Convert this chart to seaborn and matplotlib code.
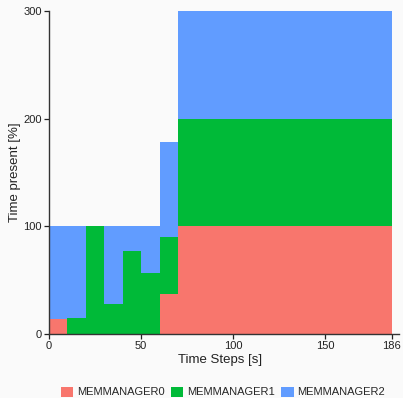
import matplotlib
matplotlib.use("Agg")
import matplotlib.pyplot as plt
import seaborn as sns
import pandas as pd
from matplotlib.patches import Patch

# Data (step intervals start times, last interval ends at 186)
t_start = [0, 10, 20, 30, 40, 50, 60, 70]
t_end = 186
mm0 = [14, 0, 0, 0, 0, 0, 37, 100]
mm1 = [0, 15, 100, 28, 77, 57, 53, 100]
mm2 = [86, 85, 0, 72, 23, 43, 88, 100]
series_names = ["MEMMANAGER0", "MEMMANAGER1", "MEMMANAGER2"]
colors = ["#F8766D", "#00BA38", "#619CFF"]
x_ticks = [0, 50, 100, 150, 186]
y_ticks = [0, 100, 200, 300]

rows = []
for name, vals in zip(series_names, [mm0, mm1, mm2]):
    for t, v in zip(t_start, vals):
        rows.append({"t": t, "value": v, "manager": name})
df = pd.DataFrame(rows)

sns.set_theme(style="ticks")
plt.rcParams["font.family"] = ["Liberation Sans", "DejaVu Sans"]
bg = "#fafafa"

fig = plt.figure(figsize=(4.03, 3.98), dpi=100, facecolor=bg)
ax = fig.add_axes([49 / 403, 1 - 334 / 398, (391.8 - 49) / 403, (334 - 11) / 398])
ax.set_facecolor(bg)

edges = t_start + [t_end]
sns.histplot(
    data=df, x="t", weights="value", hue="manager",
    hue_order=series_names[::-1], palette=dict(zip(series_names, colors)),
    bins=edges, multiple="stack", element="bars", stat="count",
    alpha=1, linewidth=0, edgecolor="none", legend=False, ax=ax,
)

ax.set_xlim(0, t_end)
ax.set_ylim(0, 300)
ax.set_xticks(x_ticks)
ax.set_yticks(y_ticks)
ax.set_xlabel("Time Steps [s]", fontsize=9.5, color="#222222", labelpad=2)
ax.set_ylabel("Time present [%]", fontsize=9.5, color="#222222", labelpad=2)
ax.tick_params(axis="both", labelsize=8, colors="#222222", length=3.5, width=0.9, pad=1.5)
for s in ["top", "right"]:
    ax.spines[s].set_visible(False)
for s in ["left", "bottom"]:
    ax.spines[s].set_color("#333333")
    ax.spines[s].set_linewidth(1.0)
ax.spines["bottom"].set_bounds(0, 190)
ax.spines["bottom"].set_clip_on(False)

handles = [Patch(facecolor=c, edgecolor="none", label=n) for n, c in zip(series_names, colors)]
fig.legend(handles=handles, loc="center", bbox_to_anchor=(223 / 403, 1 - 392 / 398), ncol=3,
           frameon=False, fontsize=8, handlelength=1.15, handleheight=1.0,
           handletextpad=0.36, columnspacing=0.5, borderpad=0)

fig.savefig("out.png", dpi=100, facecolor=bg)
